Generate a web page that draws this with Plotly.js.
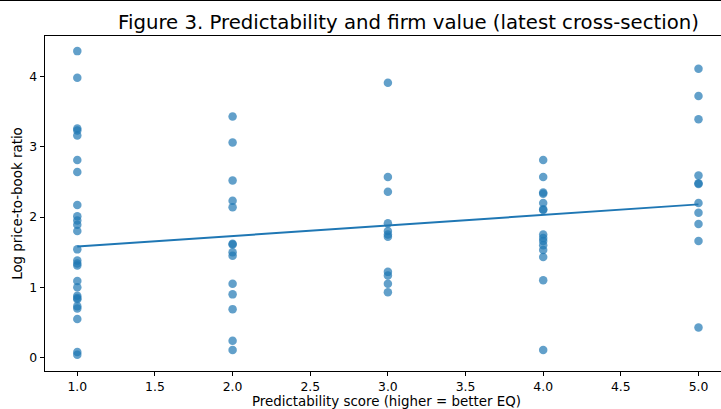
<!DOCTYPE html>
<html>
<head>
<meta charset="utf-8">
<script src="https://cdn.plot.ly/plotly-3.0.1.min.js"></script>
<style>
  html, body { margin: 0; padding: 0; overflow: hidden; background: #fff; }
  #chart { width: 740px; height: 409px; }
  #topline { position: absolute; left: 0; top: 0; width: 100%; height: 1px; background: #000; z-index: 10; }
</style>
</head>
<body>
<div id="topline"></div>
<div id="chart"></div>
<script>
// Predictability score groups and log price-to-book values
const score1 = [4.36, 3.98, 3.26, 3.23, 3.16, 2.81, 2.64, 2.17, 2.01, 1.95, 1.89, 1.80, 1.54, 1.38, 1.34, 1.31, 1.09, 1.00, 0.88, 0.85, 0.83, 0.73, 0.70, 0.55, 0.08, 0.04];
const score2 = [3.43, 3.06, 2.52, 2.23, 2.14, 1.62, 1.61, 1.50, 1.45, 1.05, 0.90, 0.69, 0.24, 0.11];
const score3 = [3.91, 2.57, 2.36, 1.91, 1.80, 1.75, 1.72, 1.22, 1.17, 1.05, 0.93];
const score4 = [2.81, 2.57, 2.35, 2.33, 2.20, 2.11, 2.10, 1.75, 1.70, 1.66, 1.60, 1.53, 1.43, 1.10, 0.11];
const score5 = [4.11, 3.72, 3.39, 2.59, 2.48, 2.47, 2.20, 2.06, 1.90, 1.66, 0.43];
const scores = [1, 2, 3, 4, 5];
const groups = [score1, score2, score3, score4, score5];

// Fitted line endpoints
const fitX = [1, 5];
const fitY = [1.58, 2.18];

const xTicks = [1.0, 1.5, 2.0, 2.5, 3.0, 3.5, 4.0, 4.5, 5.0];
const yTicks = [0, 1, 2, 3, 4];

const px = [], py = [];
groups.forEach((g, i) => { g.forEach(v => { px.push(scores[i]); py.push(v); }); });

const font = 'DejaVu Sans, sans-serif';

const traces = [
  {
    type: 'scatter', mode: 'markers', x: px, y: py,
    marker: { color: 'rgba(31,119,180,0.7)', size: 8.5, line: { width: 0 } },
    hoverinfo: 'skip', showlegend: false
  },
  {
    type: 'scatter', mode: 'lines', x: fitX, y: fitY,
    line: { color: '#1f77b4', width: 1.9 },
    hoverinfo: 'skip', showlegend: false
  }
];

const axisCommon = {
  showgrid: false, zeroline: false, showline: true, mirror: true,
  linecolor: '#000', linewidth: 1,
  ticks: 'outside', ticklen: 4.3, tickwidth: 1, tickcolor: '#000',
  tickfont: { family: font, size: 12.4, color: '#000' },
  automargin: false
};

const layout = {
  width: 740, height: 409,
  margin: { l: 45, r: 12, t: 36, b: 38 },
  paper_bgcolor: '#fff', plot_bgcolor: '#fff',
  title: {
    text: 'Figure 3. Predictability and firm value (latest cross-section)',
    font: { family: font, size: 19.7, color: '#000' },
    xref: 'container', x: 408.5 / 740, xanchor: 'center',
    yref: 'container', y: 1 - 22.5 / 409, yanchor: 'middle'
  },
  xaxis: Object.assign({}, axisCommon, {
    range: [0.792, 5.19],
    tickvals: xTicks, ticktext: xTicks.map(v => v.toFixed(1)),
    title: { text: 'Predictability score (higher = better EQ)', font: { family: font, size: 13.4, color: '#000' }, standoff: 4 }
  }),
  yaxis: Object.assign({}, axisCommon, {
    range: [-0.19, 4.575],
    tickvals: yTicks, ticktext: yTicks.map(v => String(v)),
    title: { text: 'Log price-to-book ratio', font: { family: font, size: 13.4, color: '#000' }, standoff: 3 }
  })
};

Plotly.newPlot('chart', traces, layout, { displayModeBar: false, staticPlot: true });
</script>
</body>
</html>
